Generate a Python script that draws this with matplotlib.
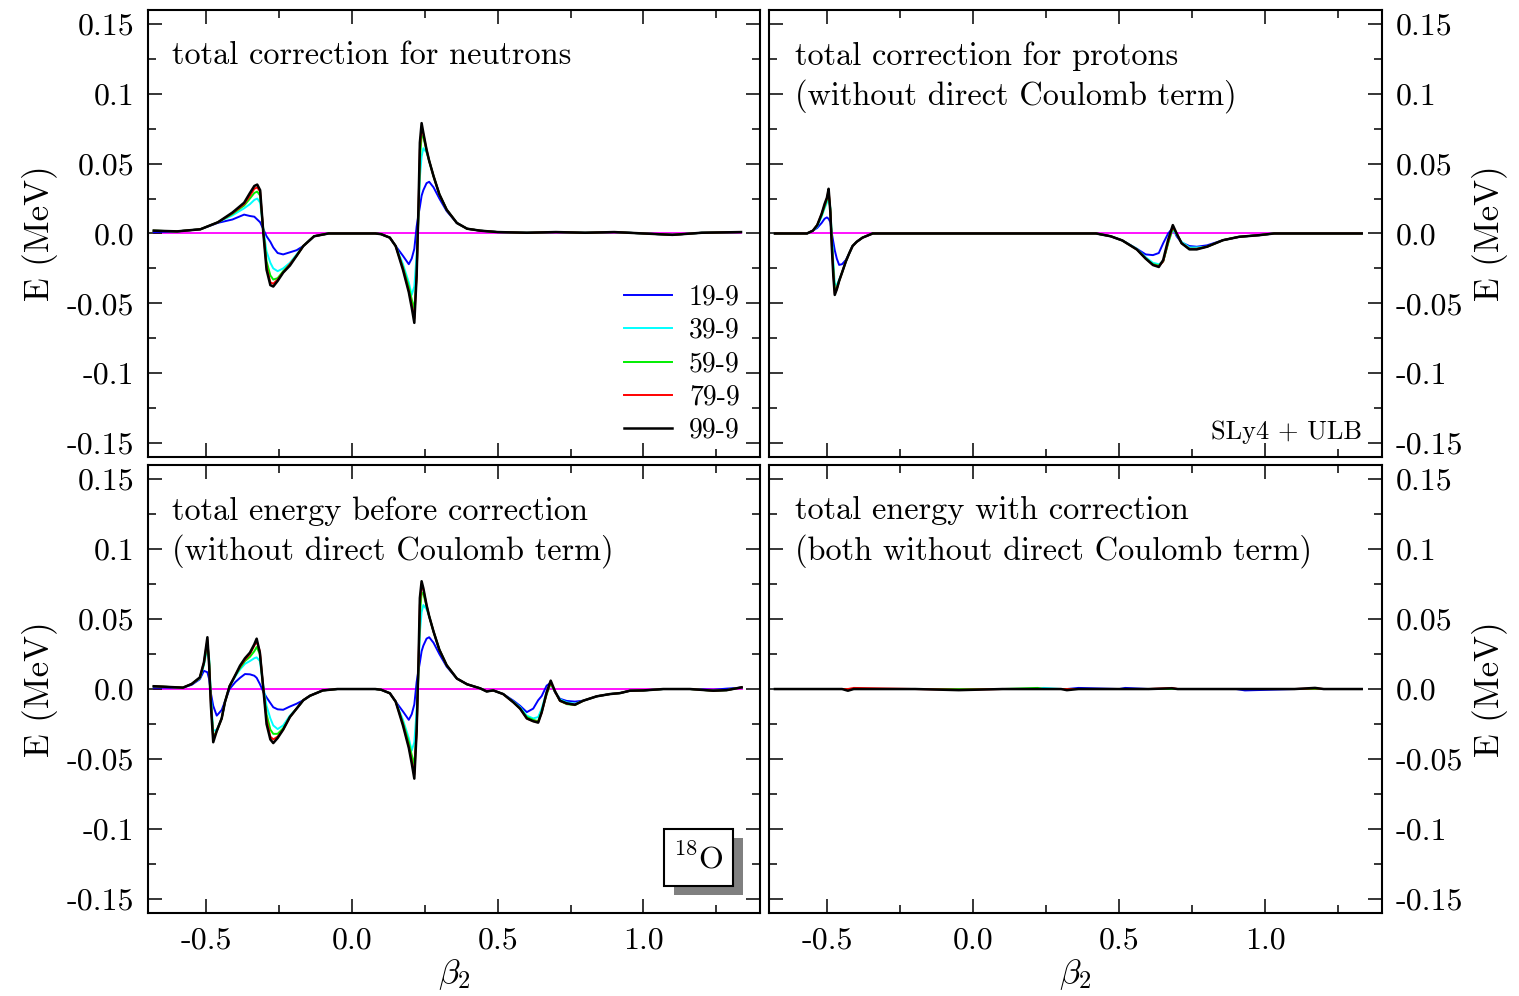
import numpy as np
import matplotlib
matplotlib.use('Agg')
import matplotlib.pyplot as plt
from matplotlib.patches import Rectangle

plt.rcParams['font.family'] = 'cmr10'
plt.rcParams['mathtext.fontset'] = 'cm'
plt.rcParams['axes.unicode_minus'] = False
plt.rcParams['axes.formatter.use_mathtext'] = True

labels = ['19-9', '39-9', '59-9', '79-9', '99-9']
colors = ['#0000ff', '#00ffff', '#00ee00', '#ff0000', '#000000']

# total correction for neutrons
beta_n = [-0.68, -0.60, -0.52, -0.46, -0.41, -0.37, -0.35, -0.335, -0.325, -0.315, -0.304,
          -0.293, -0.28, -0.27, -0.255, -0.236, -0.213, -0.19, -0.167, -0.13, -0.08,
          0.0, 0.08, 0.10, 0.13, 0.15, 0.175, 0.195, 0.205, 0.214, 0.222, 0.228,
          0.233, 0.239, 0.245, 0.256, 0.265, 0.28, 0.30, 0.325, 0.36, 0.395, 0.44,
          0.5, 0.6, 0.7, 0.8, 0.9, 1.0, 1.1, 1.2, 1.335]
n99 = [0.002, 0.0015, 0.003, 0.008, 0.015, 0.022, 0.029, 0.034, 0.035, 0.031, 0.0,
       -0.026, -0.037, -0.038, -0.034, -0.028, -0.023, -0.016, -0.009, -0.002, 0.0,
       0.0, 0.0, -0.0005, -0.003, -0.009, -0.026, -0.042, -0.053, -0.064, -0.030, 0.017,
       0.065, 0.079, 0.072, 0.060, 0.052, 0.041, 0.028, 0.017, 0.0075, 0.0034, 0.002,
       0.001, 0.0005, 0.001, 0.0005, 0.001, 0.0, -0.001, 0.0005, 0.001]
n79 = [0.002, 0.0015, 0.003, 0.008, 0.0145, 0.021, 0.027, 0.032, 0.033, 0.030, 0.001,
       -0.024, -0.035, -0.036, -0.033, -0.028, -0.022, -0.016, -0.009, -0.002, 0.0,
       0.0, 0.0, -0.0005, -0.003, -0.009, -0.025, -0.041, -0.051, -0.061, -0.030, 0.015,
       0.060, 0.076, 0.071, 0.060, 0.052, 0.041, 0.028, 0.017, 0.0075, 0.0034, 0.002,
       0.001, 0.0005, 0.001, 0.0005, 0.001, 0.0, -0.001, 0.0005, 0.001]
n59 = [0.002, 0.0015, 0.003, 0.008, 0.014, 0.020, 0.025, 0.029, 0.030, 0.027, 0.002,
       -0.020, -0.030, -0.033, -0.032, -0.027, -0.022, -0.016, -0.009, -0.002, 0.0,
       0.0, 0.0, -0.0005, -0.003, -0.009, -0.024, -0.038, -0.047, -0.054, -0.030, 0.012,
       0.052, 0.070, 0.069, 0.059, 0.052, 0.041, 0.028, 0.017, 0.0075, 0.0034, 0.002,
       0.001, 0.0005, 0.001, 0.0005, 0.001, 0.0, -0.001, 0.0005, 0.001]
n39 = [0.002, 0.0015, 0.003, 0.008, 0.013, 0.018, 0.021, 0.024, 0.025, 0.022, 0.003,
       -0.013, -0.021, -0.025, -0.027, -0.025, -0.021, -0.015, -0.009, -0.002, 0.0,
       0.0, 0.0, -0.0005, -0.003, -0.009, -0.022, -0.035, -0.044, -0.038, -0.015, 0.010,
       0.040, 0.055, 0.061, 0.058, 0.052, 0.041, 0.028, 0.017, 0.0075, 0.0034, 0.002,
       0.001, 0.0005, 0.001, 0.0005, 0.001, 0.0, -0.001, 0.0005, 0.001]
n19 = [0.001, 0.0015, 0.003, 0.0076, 0.010, 0.0135, 0.0125, 0.012, 0.010, 0.008, 0.003,
       -0.002, -0.006, -0.010, -0.014, -0.015, -0.0135, -0.012, -0.009, -0.002, 0.0,
       0.0, 0.0, -0.0005, -0.003, -0.009, -0.016, -0.022, -0.018, -0.011, 0.005, 0.013,
       0.019, 0.027, 0.031, 0.036, 0.037, 0.033, 0.025, 0.016, 0.0075, 0.0034, 0.002,
       0.001, 0.0005, 0.001, 0.0005, 0.001, 0.0, -0.001, 0.0005, 0.001]

# total correction for protons
beta_p = [-0.68, -0.60, -0.57, -0.55, -0.535, -0.52, -0.51, -0.502, -0.496, -0.49, -0.485,
          -0.48, -0.475, -0.468, -0.46, -0.45, -0.437, -0.425, -0.414, -0.40, -0.38, -0.345,
          -0.30, 0.0, 0.30, 0.42, 0.47, 0.51, 0.56, 0.59, 0.615, 0.635, 0.65, 0.667, 0.683,
          0.696, 0.713, 0.74, 0.765, 0.80, 0.855, 0.91, 0.98, 1.03, 1.10, 1.20, 1.33]
p99 = [0.0, 0.0, 0.0, 0.002, 0.006, 0.014, 0.021, 0.0255, 0.032, 0.015, -0.010,
       -0.030, -0.044, -0.040, -0.034, -0.028, -0.020, -0.014, -0.009, -0.006, -0.003, 0.0,
       0.0, 0.0, 0.0, 0.0, -0.002, -0.005, -0.0115, -0.018, -0.0226, -0.024, -0.019, -0.0045, 0.006,
       0.0, -0.007, -0.0114, -0.0114, -0.0095, -0.0048, -0.0024, -0.0012, 0.0, 0.0, 0.0, 0.0]
p79 = [0.0, 0.0, 0.0, 0.002, 0.006, 0.014, 0.020, 0.025, 0.031, 0.016, -0.008,
       -0.028, -0.043, -0.040, -0.034, -0.028, -0.020, -0.014, -0.009, -0.006, -0.003, 0.0,
       0.0, 0.0, 0.0, 0.0, -0.002, -0.005, -0.0115, -0.018, -0.0225, -0.0235, -0.020, -0.006, 0.005,
       0.0, -0.007, -0.011, -0.011, -0.0095, -0.0048, -0.0024, -0.0012, 0.0, 0.0, 0.0, 0.0]
p59 = [0.0, 0.0, 0.0, 0.002, 0.006, 0.013, 0.019, 0.024, 0.029, 0.017, -0.005,
       -0.025, -0.040, -0.039, -0.034, -0.028, -0.020, -0.014, -0.009, -0.006, -0.003, 0.0,
       0.0, 0.0, 0.0, 0.0, -0.002, -0.005, -0.0115, -0.018, -0.022, -0.023, -0.020, -0.007, 0.004,
       0.0, -0.007, -0.011, -0.011, -0.0095, -0.0048, -0.0024, -0.0012, 0.0, 0.0, 0.0, 0.0]
p39 = [0.0, 0.0, 0.0, 0.002, 0.005, 0.012, 0.018, 0.022, 0.027, 0.018, -0.003,
       -0.020, -0.036, -0.037, -0.033, -0.028, -0.020, -0.014, -0.009, -0.006, -0.003, 0.0,
       0.0, 0.0, 0.0, 0.0, -0.002, -0.005, -0.011, -0.017, -0.021, -0.022, -0.020, -0.007, 0.003,
       -0.001, -0.006, -0.010, -0.010, -0.0095, -0.0048, -0.0024, -0.0012, 0.0, 0.0, 0.0, 0.0]
p19 = [0.0, 0.0, 0.0, 0.002, 0.004, 0.0075, 0.0105, 0.0115, 0.0105, 0.008, 0.0,
       -0.006, -0.012, -0.018, -0.0225, -0.022, -0.019, -0.014, -0.009, -0.006, -0.003, 0.0,
       0.0, 0.0, 0.0, 0.0, -0.002, -0.005, -0.011, -0.015, -0.0155, -0.014, -0.007, 0.0, 0.004,
       -0.002, -0.0065, -0.009, -0.0095, -0.0085, -0.0048, -0.0024, -0.0012, 0.0, 0.0, 0.0, 0.0]

# total energy before correction
beta_t = [-0.68, -0.58, -0.55, -0.522, -0.508, -0.496, -0.49, -0.484, -0.476, -0.464, -0.447,
          -0.436, -0.42, -0.40, -0.384, -0.367, -0.35, -0.335, -0.327, -0.316, -0.304, -0.293,
          -0.28, -0.27, -0.255, -0.236, -0.213, -0.19, -0.167, -0.144, -0.10, -0.05,
          0.0, 0.08, 0.10, 0.13, 0.15, 0.175, 0.195, 0.205, 0.214, 0.222, 0.228, 0.233, 0.239,
          0.245, 0.256, 0.265, 0.28, 0.30, 0.325, 0.36, 0.395,
          0.44, 0.462, 0.485, 0.519, 0.554, 0.577, 0.60, 0.622, 0.639, 0.651, 0.668, 0.682,
          0.697, 0.714, 0.737, 0.765, 0.794, 0.84, 0.885, 0.92, 0.954, 1.0, 1.068, 1.16,
          1.24, 1.286, 1.337]
t99 = [0.002, 0.001, 0.0036, 0.0083, 0.019, 0.037, 0.0167, -0.012, -0.038, -0.030, -0.021,
       -0.0095, 0.002, 0.010, 0.0167, 0.022, 0.026, 0.032, 0.036, 0.026, 0.0, -0.025,
       -0.036, -0.0386, -0.035, -0.029, -0.020, -0.014, -0.008, -0.0048, -0.001, 0.0,
       0.0, 0.0, -0.0005, -0.003, -0.009, -0.026, -0.042, -0.053, -0.064, -0.030, 0.017, 0.065, 0.077,
       0.072, 0.060, 0.052, 0.041, 0.028, 0.017, 0.0075, 0.0034,
       0.0005, -0.0017, -0.001, -0.0036, -0.0095, -0.014, -0.021, -0.023, -0.024, -0.0167, -0.0024, 0.006,
       -0.0017, -0.0083, -0.0102, -0.0112, -0.0083, -0.0052, -0.0036, -0.0029, -0.0012, -0.001, 0.0, 0.0,
       -0.0012, -0.0008, 0.0012]
t79 = [0.002, 0.001, 0.0036, 0.008, 0.019, 0.035, 0.018, -0.010, -0.036, -0.030, -0.021,
       -0.0095, 0.002, 0.010, 0.016, 0.021, 0.025, 0.031, 0.034, 0.027, 0.0, -0.022,
       -0.034, -0.036, -0.034, -0.029, -0.020, -0.014, -0.008, -0.0048, -0.001, 0.0,
       0.0, 0.0, -0.0005, -0.003, -0.009, -0.025, -0.041, -0.051, -0.061, -0.030, 0.015, 0.060, 0.075,
       0.071, 0.060, 0.052, 0.041, 0.028, 0.017, 0.0075, 0.0034,
       0.0005, -0.0017, -0.001, -0.0036, -0.0095, -0.014, -0.021, -0.023, -0.0235, -0.017, -0.003, 0.005,
       -0.002, -0.0085, -0.0105, -0.0112, -0.0083, -0.0052, -0.0036, -0.0029, -0.0012, -0.001, 0.0, 0.0,
       -0.0012, -0.0008, 0.0012]
t59 = [0.002, 0.001, 0.0036, 0.008, 0.018, 0.033, 0.020, -0.008, -0.034, -0.030, -0.021,
       -0.0095, 0.002, 0.010, 0.015, 0.020, 0.023, 0.027, 0.030, 0.025, 0.0, -0.018,
       -0.029, -0.032, -0.032, -0.028, -0.020, -0.014, -0.008, -0.0048, -0.001, 0.0,
       0.0, 0.0, -0.0005, -0.003, -0.009, -0.024, -0.038, -0.047, -0.054, -0.030, 0.012, 0.052, 0.069,
       0.068, 0.059, 0.052, 0.041, 0.028, 0.017, 0.0075, 0.0034,
       0.0005, -0.0017, -0.001, -0.0036, -0.0095, -0.014, -0.020, -0.022, -0.023, -0.016, -0.004, 0.004,
       -0.002, -0.0085, -0.0108, -0.0115, -0.0083, -0.0052, -0.0036, -0.0029, -0.0012, -0.001, 0.0, 0.0,
       -0.0012, -0.0008, 0.0012]
t39 = [0.002, 0.001, 0.0036, 0.0075, 0.017, 0.030, 0.022, -0.005, -0.030, -0.029, -0.021,
       -0.0095, 0.002, 0.009, 0.014, 0.018, 0.020, 0.022, 0.0226, 0.020, 0.002, -0.012,
       -0.021, -0.026, -0.0286, -0.026, -0.019, -0.014, -0.008, -0.0048, -0.001, 0.0,
       0.0, 0.0, -0.0005, -0.003, -0.009, -0.022, -0.035, -0.044, -0.038, -0.015, 0.010, 0.040, 0.055,
       0.060, 0.057, 0.052, 0.041, 0.028, 0.017, 0.0075, 0.0034,
       0.0005, -0.0017, -0.001, -0.0036, -0.009, -0.013, -0.019, -0.021, -0.020, -0.014, -0.002, 0.004,
       -0.002, -0.0075, -0.0095, -0.0105, -0.0083, -0.0052, -0.0036, -0.0029, -0.0012, -0.001, 0.0, 0.0,
       -0.0012, -0.0008, 0.0012]
t19 = [0.001, 0.001, 0.003, 0.007, 0.013, 0.012, 0.007, -0.003, -0.012, -0.019, -0.015,
       -0.009, 0.0, 0.005, 0.008, 0.0107, 0.0105, 0.0095, 0.008, 0.0036, -0.002, -0.006,
       -0.010, -0.013, -0.0145, -0.0148, -0.0125, -0.0105, -0.008, -0.0048, -0.001, 0.0,
       0.0, 0.0, -0.0005, -0.003, -0.009, -0.016, -0.022, -0.018, -0.011, 0.005, 0.013, 0.019, 0.027,
       0.031, 0.036, 0.037, 0.033, 0.025, 0.016, 0.0075, 0.0034,
       0.0005, -0.0017, -0.001, -0.0036, -0.0083, -0.012, -0.0165, -0.014, -0.008, -0.005, 0.0024, 0.0045,
       -0.0024, -0.007, -0.0085, -0.009, -0.0083, -0.0052, -0.0036, -0.0029, -0.0012, -0.001, 0.0, 0.0,
       -0.0005, 0.0003, 0.0010]

# total energy with correction
beta_c = [-0.68, -0.45, -0.43, -0.41, -0.2, -0.05, 0.1, 0.22, 0.24, 0.30, 0.32, 0.36,
          0.5, 0.52, 0.6, 0.68, 0.7, 0.9, 0.93, 1.1, 1.17, 1.2, 1.33]
c99 = [0.0, 0.0, -0.0012, 0.0, 0.0, -0.0008, 0.0, 0.0, 0.0, 0.0, -0.0008, 0.0,
       0.0, 0.0, 0.0, 0.0005, 0.0, 0.0, 0.0, 0.0, 0.0008, 0.0, 0.0]
c79 = [0.0, 0.0, 0.0, 0.0008, 0.0, -0.0005, 0.0, 0.0, 0.0, 0.0, 0.0, 0.0,
       0.0, 0.0, 0.0, 0.0008, 0.0, 0.0, 0.0, 0.0, 0.0005, 0.0, 0.0]
c59 = [0.0, 0.0, 0.0, 0.0, 0.0, 0.0, 0.0, 0.0008, 0.0, 0.0, 0.0, 0.0,
       0.0, 0.0, 0.0, 0.0, 0.0, 0.0, 0.0, 0.0, 0.0, 0.0, 0.0]
c39 = [0.0, 0.0, 0.0, 0.0, 0.0, 0.0, 0.0, 0.0, 0.0008, 0.0, 0.0, 0.0,
       0.0, 0.0, 0.0, 0.0, 0.0, 0.0, 0.0, 0.0, 0.0, 0.0, 0.0]
c19 = [0.0, 0.0, 0.0, 0.0, 0.0, 0.0, 0.0, 0.0, 0.0, 0.0, 0.0, 0.0008,
       0.0, 0.0008, 0.0, 0.0, 0.0, 0.0, -0.001, 0.0, 0.0, 0.0, 0.0]

xticks = [-0.5, 0.0, 0.5, 1.0]
xticklabels = ['-0.5', '0.0', '0.5', '1.0']
xminor = [-0.25, 0.25, 0.75, 1.25]
yticks = [-0.15, -0.1, -0.05, 0.0, 0.05, 0.1, 0.15]
yticklabels = ['-0.15', '-0.1', '-0.05', '0.0', '0.05', '0.1', '0.15']
yminor = [-0.125, -0.075, -0.025, 0.025, 0.075, 0.125]

fig = plt.figure(figsize=(15.19, 9.96), dpi=100)
ax_n = fig.add_axes([0.0974, 0.5412, 0.4029, 0.4488])
ax_p = fig.add_axes([0.5063, 0.5412, 0.4036, 0.4488])
ax_t = fig.add_axes([0.0974, 0.0833, 0.4029, 0.4498])
ax_c = fig.add_axes([0.5063, 0.0833, 0.4036, 0.4498])


def style(ax, left, bottom):
    ax.set_xlim(-0.7, 1.4)
    ax.set_ylim(-0.16, 0.16)
    ax.set_xticks(xticks)
    ax.set_xticklabels(xticklabels if bottom else [])
    ax.set_xticks(xminor, minor=True)
    ax.set_yticks(yticks)
    ax.set_yticklabels(yticklabels)
    ax.set_yticks(yminor, minor=True)
    ax.tick_params(which='both', direction='in', top=True, bottom=True, left=True,
                   right=True, labelsize=23, width=1.1, pad=10)
    ax.tick_params(which='major', length=10)
    ax.tick_params(which='minor', length=5.5)
    if left:
        ax.tick_params(labelleft=True, labelright=False)
        ax.set_ylabel('E (MeV)', fontsize=25, labelpad=6)
    else:
        ax.tick_params(labelleft=False, labelright=True)
        ax.yaxis.set_label_position('right')
        ax.set_ylabel('E (MeV)', fontsize=25, labelpad=6, rotation=90)
    if bottom:
        ax.set_xlabel(r'$\beta_2$', fontsize=25, labelpad=2)
    for s in ax.spines.values():
        s.set_linewidth(1.5)


def draw(ax, beta, series):
    ax.plot(beta, np.zeros(len(beta)), color='#ff00ff', lw=1.3, zorder=1)
    lines = []
    for ys, c, lab in zip(series, colors, labels):
        ln, = ax.plot(beta, ys, color=c, lw=1.8 if c == '#000000' else 1.4, label=lab, zorder=2)
        lines.append(ln)
    return lines


lines = draw(ax_n, beta_n, [n19, n39, n59, n79, n99])
draw(ax_p, beta_p, [p19, p39, p59, p79, p99])
draw(ax_t, beta_t, [t19, t39, t59, t79, t99])
draw(ax_c, beta_c, [c19, c39, c59, c79, c99])

style(ax_n, True, False)
style(ax_p, False, False)
style(ax_t, True, True)
style(ax_c, False, True)

ax_n.legend(handles=lines, loc='lower right', bbox_to_anchor=(0.999, -0.014), frameon=False,
            fontsize=20, handlelength=1.75, handletextpad=0.6, labelspacing=0.25,
            borderpad=0.2)

kw = dict(fontsize=23.3, va='top', ha='left', linespacing=1.33)
ax_n.text(0.04, 0.93, 'total correction for neutrons', transform=ax_n.transAxes, **kw)
ax_p.text(0.042, 0.93, 'total correction for protons\n(without direct Coulomb term)',
          transform=ax_p.transAxes, **kw)
ax_t.text(0.04, 0.93, 'total energy before correction\n(without direct Coulomb term)',
          transform=ax_t.transAxes, **kw)
ax_c.text(0.042, 0.93, 'total energy with correction\n(both without direct Coulomb term)',
          transform=ax_c.transAxes, **kw)
ax_p.text(0.967, 0.04, 'SLy4 + ULB', transform=ax_p.transAxes, fontsize=19,
          ha='right', va='baseline')

# 18O label with shadow box
ax_t.add_patch(Rectangle((0.859, 0.040), 0.113, 0.1275, transform=ax_t.transAxes,
                         facecolor='#808080', edgecolor='none', zorder=5))
ax_t.add_patch(Rectangle((0.843, 0.060), 0.113, 0.1275, transform=ax_t.transAxes,
                         facecolor='white', edgecolor='black', lw=1.5, zorder=6))
ax_t.text(0.899, 0.122, r'$^{18}$O', transform=ax_t.transAxes, fontsize=23,
          ha='center', va='center', zorder=7)

fig.savefig('out.png', dpi=100)
